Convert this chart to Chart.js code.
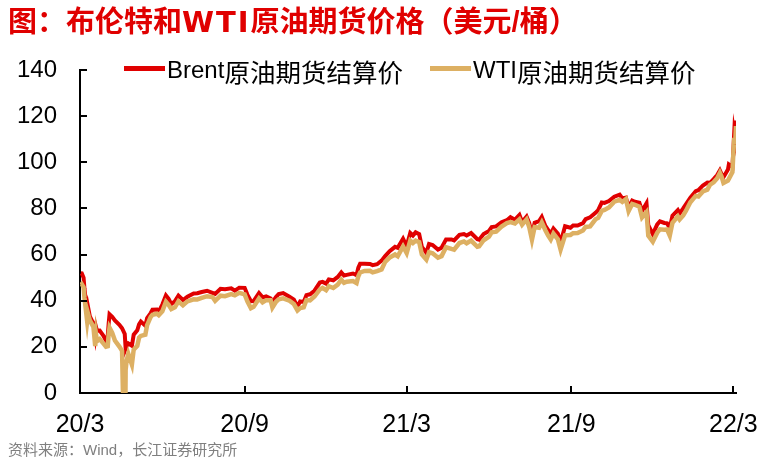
<!DOCTYPE html>
<html>
<head>
<meta charset="utf-8">
<script src="https://cdn.jsdelivr.net/npm/chart.js@4.4.1/dist/chart.umd.min.js"></script>
<style>
  html, body { margin: 0; padding: 0; background: #fff; }
  #wrap { position: relative; width: 760px; height: 462px; overflow: hidden;
          font-family: "Liberation Sans", "Noto Sans CJK SC", sans-serif; }
  #title { position: absolute; left: 8px; top: 5px; font-size: 29px; font-weight: bold;
           color: #E00000; line-height: 34px; white-space: nowrap; }
  #title b { font-family: "DejaVu Sans", sans-serif; letter-spacing: 2px; }
  .leg { position: absolute; top: 56px; height: 28px; display: flex; align-items: center;
         font-size: 24px; color: #000; white-space: nowrap; }
  .leg span { font-size: 25.5px; }
  .leg i { display: inline-block; width: 41px; height: 5px; margin-right: 2px; position: relative; top: -2px; }
  #src { position: absolute; left: 8px; top: 441px; font-size: 15px; line-height: 18px; color: #7f7f7f; }
  canvas { position: absolute; left: 0; top: 0; }
</style>
</head>
<body>
<div id="wrap">
  <canvas id="chart" width="760" height="462"></canvas>
  <div id="title">图：布伦特和<b>WTI</b>原油期货价格（美元/桶）</div>
  <div class="leg" style="left:124px"><i style="background:#E00000"></i>Brent<span>原油期货结算价</span></div>
  <div class="leg" style="left:430px"><i style="background:#DDB063"></i>WTI<span>原油期货结算价</span></div>
  <div id="src">资料来源：Wind，长江证券研究所</div>
</div>
<script>
// settlement dates
const dates = [
  '2020-03-02','2020-03-03','2020-03-05','2020-03-06','2020-03-09','2020-03-10','2020-03-12','2020-03-16',
  '2020-03-18','2020-03-19','2020-03-20','2020-03-23','2020-03-27','2020-03-30','2020-04-01','2020-04-02',
  '2020-04-03','2020-04-06','2020-04-09','2020-04-14','2020-04-17','2020-04-20','2020-04-21','2020-04-22',
  '2020-04-24','2020-04-28','2020-04-30','2020-05-04','2020-05-06','2020-05-08','2020-05-13','2020-05-15',
  '2020-05-19','2020-05-21','2020-05-26','2020-05-28','2020-06-01','2020-06-05','2020-06-08','2020-06-11',
  '2020-06-15','2020-06-19','2020-06-24','2020-06-29','2020-07-06','2020-07-10','2020-07-15','2020-07-21',
  '2020-07-27','2020-07-30','2020-08-05','2020-08-10','2020-08-17','2020-08-21','2020-08-26','2020-09-01',
  '2020-09-04','2020-09-08','2020-09-11','2020-09-17','2020-09-21','2020-09-25','2020-09-30','2020-10-02',
  '2020-10-06','2020-10-09','2020-10-14','2020-10-21','2020-10-26','2020-10-30','2020-11-02','2020-11-06',
  '2020-11-09','2020-11-13','2020-11-18','2020-11-24','2020-11-27','2020-12-01','2020-12-04','2020-12-09',
  '2020-12-14','2020-12-18','2020-12-21','2020-12-24','2020-12-31','2021-01-04','2021-01-06','2021-01-08',
  '2021-01-13','2021-01-19','2021-01-22','2021-01-27','2021-02-01','2021-02-05','2021-02-10','2021-02-16',
  '2021-02-19','2021-02-25','2021-03-01','2021-03-05','2021-03-08','2021-03-11','2021-03-15','2021-03-18',
  '2021-03-23','2021-03-26','2021-03-30','2021-04-05','2021-04-09','2021-04-14','2021-04-20','2021-04-23',
  '2021-04-29','2021-05-04','2021-05-07','2021-05-12','2021-05-19','2021-05-21','2021-05-26','2021-06-01',
  '2021-06-04','2021-06-09','2021-06-15','2021-06-21','2021-06-25','2021-06-30','2021-07-05','2021-07-08',
  '2021-07-13','2021-07-16','2021-07-19','2021-07-22','2021-07-27','2021-07-30','2021-08-03','2021-08-06',
  '2021-08-09','2021-08-12','2021-08-17','2021-08-20','2021-08-25','2021-08-31','2021-09-03','2021-09-08',
  '2021-09-14','2021-09-17','2021-09-22','2021-09-28','2021-10-01','2021-10-05','2021-10-08','2021-10-13',
  '2021-10-19','2021-10-25','2021-10-28','2021-11-01','2021-11-04','2021-11-08','2021-11-11','2021-11-16',
  '2021-11-19','2021-11-24','2021-11-26','2021-12-01','2021-12-06','2021-12-09','2021-12-14','2021-12-17',
  '2021-12-20','2021-12-23','2021-12-29','2021-12-31','2022-01-04','2022-01-07','2022-01-12','2022-01-18',
  '2022-01-21','2022-01-26','2022-01-31','2022-02-03','2022-02-07','2022-02-11','2022-02-14','2022-02-16',
  '2022-02-18','2022-02-23','2022-02-24','2022-02-28','2022-03-01','2022-03-02','2022-03-03','2022-03-04'
];

const brent = [
  51.90,51.86,49.99,45.27,34.36,37.22,33.22,30.05,
  24.88,28.47,26.98,27.03,24.93,22.76,24.74,29.94,
  34.11,33.05,31.48,29.60,28.08,25.57,19.33,20.37,
  21.44,20.46,25.27,27.20,29.72,30.97,29.19,32.50,
  34.65,36.06,36.17,35.29,38.32,42.30,40.80,38.55,
  39.72,42.19,40.31,41.71,43.10,43.24,43.79,44.32,
  43.41,42.94,45.17,44.99,45.37,44.35,45.64,45.58,
  42.66,39.78,39.83,43.30,41.44,41.92,40.95,39.27,
  41.65,42.85,43.32,41.73,40.46,37.46,39.71,39.45,
  42.40,42.78,44.34,47.86,48.18,47.42,49.25,48.86,
  50.29,52.26,50.91,51.20,51.80,51.09,54.30,55.99,
  56.06,55.90,55.41,55.81,57.35,59.34,61.47,63.35,
  62.91,66.88,63.69,69.36,68.24,69.63,68.88,63.28,
  60.79,64.57,64.14,62.15,62.95,66.58,66.57,66.11,
  68.56,68.88,68.28,69.32,66.66,66.44,68.87,70.25,
  71.89,72.22,73.99,74.90,76.18,75.13,77.16,74.12,
  76.49,73.59,68.62,73.79,74.48,76.33,72.41,70.70,
  69.04,71.31,69.03,65.18,72.25,71.63,72.61,72.60,
  73.60,75.34,76.19,78.09,79.28,82.56,82.39,83.18,
  85.08,85.99,84.32,84.71,80.54,83.43,82.87,82.43,
  78.89,82.25,72.72,68.87,73.08,74.42,73.70,73.52,
  71.52,76.85,79.23,77.78,80.00,81.75,84.67,87.51,
  87.89,89.96,91.21,91.11,92.69,94.44,96.48,94.81,
  93.54,96.84,99.08,97.97,104.97,112.93,110.46,118.11
];

const wti = [
  46.75,47.18,45.90,41.28,31.13,34.36,31.50,28.70,
  20.37,25.22,22.43,23.36,21.51,20.09,20.31,25.32,
  28.34,26.08,22.76,20.11,18.27,-37.63,10.01,13.78,
  16.94,12.34,18.84,20.39,23.99,24.74,25.29,29.43,
  32.96,33.92,34.35,33.71,35.44,39.55,38.19,36.34,
  37.12,39.75,38.01,39.70,40.63,40.55,41.20,41.96,
  41.60,39.92,42.19,41.94,42.89,42.34,43.39,42.76,
  39.77,36.76,37.33,40.97,39.31,40.25,40.22,37.05,
  39.57,40.60,41.04,40.03,38.56,35.79,36.81,37.14,
  40.29,40.13,41.82,44.91,45.53,44.55,46.26,45.52,
  46.99,49.10,47.74,48.23,48.52,47.62,50.63,52.24,
  52.91,52.98,52.27,52.85,53.55,56.85,58.68,60.05,
  59.24,63.53,60.64,66.09,65.05,66.02,65.39,60.00,
  57.76,60.97,60.55,58.65,59.32,63.15,62.44,62.14,
  65.01,65.69,64.90,66.08,63.36,63.58,66.21,67.72,
  69.62,69.96,72.12,73.66,74.05,73.47,75.23,72.94,
  75.25,71.81,66.42,71.91,71.65,73.95,70.56,68.28,
  66.48,69.09,66.59,62.14,68.36,68.50,69.29,69.30,
  70.46,71.97,72.23,75.29,75.88,78.93,79.35,80.44,
  82.96,83.76,82.81,84.05,78.81,81.93,81.59,80.76,
  76.10,78.39,68.15,65.57,69.49,70.94,70.73,70.86,
  68.23,73.79,76.56,75.21,76.99,78.90,82.64,85.43,
  85.14,87.35,88.15,90.27,91.32,93.10,95.46,93.66,
  91.07,92.10,92.81,95.72,103.41,110.60,107.67,115.68
];

const tickDates = ['2020-03-01','2020-09-01','2021-03-01','2021-09-01','2022-03-01'];
const tickLabels = ['20/3','20/9','21/3','21/9','22/3'];
const endDate = '2022-03-04';

const base = Date.UTC(2020, 2, 1);
const dayOf = s => (Date.parse(s) - base) / 86400000;
const pts = arr => dates.map((d, i) => ({x: dayOf(d), y: arr[i]}));

// tick marks that point into the plot
const innerTicks = {
  id: 'innerTicks',
  afterDraw(chart) {
    const {ctx, chartArea: a, scales: {x, y}} = chart;
    ctx.save();
    ctx.strokeStyle = '#000';
    ctx.lineWidth = 2;
    ctx.beginPath();
    y.ticks.forEach(t => {
      const p = Math.round(y.getPixelForValue(t.value));
      ctx.moveTo(a.left, p); ctx.lineTo(a.left + 7, p);
    });
    x.ticks.forEach(t => {
      const p = Math.round(x.getPixelForValue(t.value));
      ctx.moveTo(p, a.bottom); ctx.lineTo(p, a.bottom - 7);
    });
    ctx.stroke();
    ctx.restore();
  }
};

new Chart(document.getElementById('chart'), {
  type: 'line',
  data: {
    datasets: [{
      label: 'Brent原油期货结算价',
      data: pts(brent),
      borderColor: '#E00000',
      borderWidth: 4,
      pointRadius: 0,
      tension: 0,
      order: 1
    }, {
      label: 'WTI原油期货结算价',
      data: pts(wti),
      borderColor: '#DDB063',
      borderWidth: 4.5,
      pointRadius: 0,
      tension: 0,
      order: 0
    }]
  },
  options: {
    responsive: false,
    animation: false,
    layout: { padding: { top: 70, right: 24, left: 0, bottom: 0 } },
    plugins: { legend: { display: false }, tooltip: { enabled: false } },
    scales: {
      x: {
        type: 'linear',
        min: 0,
        max: dayOf(endDate),
        afterBuildTicks: s => { s.ticks = tickDates.map(d => ({value: dayOf(d)})); },
        afterFit: s => { s.height = 69; s.paddingLeft = 0; s.paddingRight = 0; },
        grid: { display: false, drawTicks: false },
        border: { display: true, color: '#000', width: 2 },
        ticks: {
          autoSkip: false, maxRotation: 0, padding: 17, color: '#000',
          font: { family: '"Liberation Sans", Arial, sans-serif', size: 25 },
          callback: (v, i) => tickLabels[i]
        }
      },
      y: {
        min: 0,
        max: 140,
        afterFit: s => { s.width = 80; },
        grid: { display: false, drawTicks: false },
        border: { display: true, color: '#000', width: 2 },
        ticks: {
          stepSize: 20, padding: 23, color: '#000',
          font: { family: '"Liberation Sans", Arial, sans-serif', size: 24 }
        }
      }
    }
  },
  plugins: [innerTicks]
});
</script>
</body>
</html>
